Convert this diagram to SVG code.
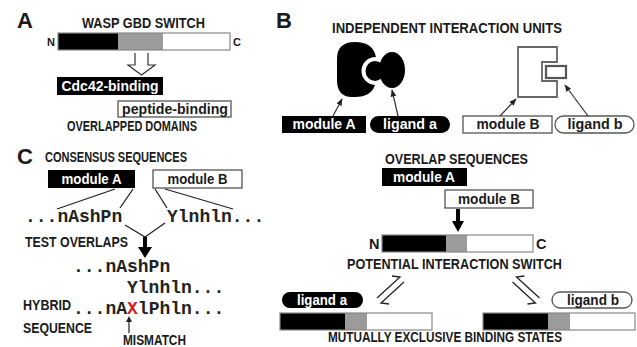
<svg xmlns="http://www.w3.org/2000/svg" width="637" height="347" viewBox="0 0 637 347">
<defs>
<style>
.t{font-family:"Liberation Sans",Arial,sans-serif;font-weight:bold;fill:#1a1a1a}
.big{font-size:22px}
.h{font-size:14.5px}
.lbl{font-size:15px;text-anchor:middle}
.w{fill:#fff}
.nc{font-size:11px}
.mono{font-family:"Liberation Mono","Courier New",monospace;font-weight:bold;font-size:18px;fill:#222}
.blk{fill:#000}
.gry{fill:#9b9b9b}
.wht{fill:#fff}
.out{fill:none;stroke:#888;stroke-width:1.2}
.box{fill:#fff;stroke:#555;stroke-width:1.3}
.ln{fill:none;stroke:#222;stroke-width:1.3}
.thin{fill:none;stroke:#333;stroke-width:1.2}
</style>
<marker id="ah" viewBox="0 0 10 10" refX="9" refY="5" markerWidth="6" markerHeight="6" orient="auto">
<path d="M0,1 L10,5 L0,9 Z" fill="#222"/>
</marker>
</defs>

<!-- Panel A -->
<g id="panelA">
<text class="t big" x="17" y="28">A</text>
<text class="t h" x="82" y="28" textLength="123" lengthAdjust="spacingAndGlyphs">WASP GBD SWITCH</text>
<g id="barA">
<rect class="blk" x="58" y="33" width="60" height="17"/>
<rect class="gry" x="118" y="33" width="45" height="17"/>
<rect class="wht" x="163" y="33" width="67" height="17"/>
<rect class="out" x="58" y="33" width="172" height="17"/>
<text class="t nc" x="47" y="46">N</text>
<text class="t nc" x="233" y="46">C</text>
</g>
<path class="thin" d="M135,53 V65 H128 L141.5,75 L155,65 H148 V53"/>
<g id="cdc42">
<rect class="blk" x="57" y="77" width="106" height="18"/>
<text class="t lbl w" x="110" y="91" textLength="97" lengthAdjust="spacingAndGlyphs">Cdc42-binding</text>
</g>
<g id="peptide">
<rect class="box" x="118" y="101" width="113" height="16"/>
<text class="t lbl" x="175" y="114" textLength="106" lengthAdjust="spacingAndGlyphs">peptide-binding</text>
</g>
<text class="t h" x="67" y="131" textLength="130" lengthAdjust="spacingAndGlyphs">OVERLAPPED DOMAINS</text>
</g>

<!-- Panel B -->
<g id="panelB">
<text class="t big" x="276" y="28">B</text>
<text class="t h" x="332" y="33" textLength="230" lengthAdjust="spacingAndGlyphs">INDEPENDENT INTERACTION UNITS</text>
<g id="blobA">
<path fill="#000" d="M355,42 Q373,42 376,57 A14,14 0 0 0 375,85 Q371,97 355,97 L352,97 Q337,97 337,80 L337,59 Q337,42 355,42 Z"/>
</g>
<g id="ligandAshape">
<ellipse cx="392" cy="70" rx="13" ry="18" fill="#fff" stroke="#fff" stroke-width="4"/>
<ellipse cx="375" cy="71" rx="9.5" ry="10" fill="#fff" stroke="#fff" stroke-width="4"/>
<ellipse cx="392" cy="70" rx="13" ry="18" fill="#000"/>
<ellipse cx="375" cy="71" rx="9.5" ry="10" fill="#000"/>
</g>
<g id="blobB">
<path d="M518,47 H557 V62 H542 V81 H557 V97 H518 Z" fill="#fff" stroke="#666" stroke-width="1.8"/>
<rect x="546" y="66" width="20" height="12" fill="#fff" stroke="#555" stroke-width="2.2"/>
</g>
<g id="moduleA_B">
<rect class="blk" x="282" y="116" width="84" height="17"/>
<text class="t lbl w" x="324" y="129" textLength="63" lengthAdjust="spacingAndGlyphs">module A</text>
</g>
<g id="ligandA_B">
<rect class="blk" x="370" y="116" width="80" height="17" rx="8.5"/>
<text class="t lbl w" x="410" y="129" textLength="54" lengthAdjust="spacingAndGlyphs">ligand a</text>
</g>
<g id="moduleB_B">
<rect class="box" x="463" y="116" width="89" height="17"/>
<text class="t lbl" x="508" y="129" textLength="63" lengthAdjust="spacingAndGlyphs">module B</text>
</g>
<g id="ligandB_B">
<rect class="box" x="555" y="116" width="79" height="17" rx="8.5"/>
<text class="t lbl" x="595" y="129" textLength="55" lengthAdjust="spacingAndGlyphs">ligand b</text>
</g>
</g>

<!-- Panel C -->
<g id="panelC">
<text class="t big" x="17" y="164">C</text>
<text class="t h" x="45" y="162" textLength="142" lengthAdjust="spacingAndGlyphs">CONSENSUS SEQUENCES</text>
<g id="moduleA_C">
<rect class="blk" x="48" y="170" width="87" height="18"/>
<text class="t lbl w" x="91.5" y="184" textLength="60" lengthAdjust="spacingAndGlyphs">module A</text>
</g>
<g id="moduleB_C">
<rect class="box" x="153" y="170" width="89" height="18"/>
<text class="t lbl" x="197.5" y="184" textLength="60" lengthAdjust="spacingAndGlyphs">module B</text>
</g>
<text class="mono" x="25" y="222">...nAshPn</text>
<text class="mono" x="167" y="222">Ylnhln...</text>
<text class="t h" x="25" y="247" textLength="103" lengthAdjust="spacingAndGlyphs">TEST OVERLAPS</text>
<text class="mono" x="73" y="272">...nAshPn</text>
<text class="mono" x="127" y="293">Ylnhln...</text>
<text class="t h" x="23" y="310" textLength="48" lengthAdjust="spacingAndGlyphs">HYBRID</text>
<text class="mono" x="73" y="314">...nA<tspan fill="#d42020">X</tspan>lPhln...</text>
<text class="t h" x="23" y="333" textLength="69" lengthAdjust="spacingAndGlyphs">SEQUENCE</text>
<text class="t h" x="123" y="345" textLength="63" lengthAdjust="spacingAndGlyphs">MISMATCH</text>

<text class="t h" x="385" y="164" textLength="143" lengthAdjust="spacingAndGlyphs">OVERLAP SEQUENCES</text>
<g id="moduleA_C2">
<rect class="blk" x="382" y="168" width="85" height="18"/>
<text class="t lbl w" x="424" y="182" textLength="62" lengthAdjust="spacingAndGlyphs">module A</text>
</g>
<g id="moduleB_C2">
<rect class="box" x="445" y="190" width="88" height="18"/>
<text class="t lbl" x="489" y="204" textLength="62" lengthAdjust="spacingAndGlyphs">module B</text>
</g>
<g id="switchBar">
<rect class="blk" x="382" y="235" width="64" height="17"/>
<rect class="gry" x="446" y="235" width="21" height="17"/>
<rect class="wht" x="467" y="235" width="66" height="17"/>
<rect class="out" x="382" y="235" width="151" height="17"/>
<text class="t h" x="369" y="249">N</text>
<text class="t h" x="536" y="249">C</text>
</g>
<text class="t h" x="347" y="269" textLength="215" lengthAdjust="spacingAndGlyphs">POTENTIAL INTERACTION SWITCH</text>
<g id="ligandA_C">
<rect class="blk" x="282" y="292" width="81" height="16" rx="8"/>
<text class="t lbl w" x="322" y="305" textLength="50" lengthAdjust="spacingAndGlyphs">ligand a</text>
</g>
<g id="barLeft">
<rect class="blk" x="280" y="313" width="65" height="17"/>
<rect class="gry" x="345" y="313" width="22" height="17"/>
<rect class="wht" x="367" y="313" width="65" height="17"/>
<rect class="out" x="280" y="313" width="152" height="17"/>
</g>
<g id="ligandB_C">
<rect class="box" x="552" y="292" width="80" height="16" rx="8"/>
<text class="t lbl" x="593" y="305" textLength="52" lengthAdjust="spacingAndGlyphs">ligand b</text>
</g>
<g id="barRight">
<rect class="blk" x="483" y="313" width="65" height="17"/>
<rect class="gry" x="548" y="313" width="22" height="17"/>
<rect class="wht" x="570" y="313" width="65" height="17"/>
<rect class="out" x="483" y="313" width="152" height="17"/>
</g>
<text class="t h" x="328" y="342" textLength="234" lengthAdjust="spacingAndGlyphs">MUTUALLY EXCLUSIVE BINDING STATES</text>
</g>

<!-- Connectors -->
<g id="connectors">
<line class="thin" x1="333" y1="116" x2="342" y2="99" marker-end="url(#ah)"/>
<line class="thin" x1="398" y1="116" x2="392" y2="90" marker-end="url(#ah)"/>
<line class="thin" x1="500" y1="116" x2="516" y2="99" marker-end="url(#ah)"/>
<line class="thin" x1="588" y1="116" x2="565" y2="85" marker-end="url(#ah)"/>

<line class="ln" x1="115" y1="189" x2="57" y2="209"/>
<line class="ln" x1="133" y1="189" x2="120" y2="208"/>
<line class="ln" x1="155" y1="189" x2="167" y2="208"/>
<line class="ln" x1="165" y1="189" x2="233" y2="209"/>
<polyline class="ln" points="125,225 145,237 165,223"/>
<line x1="145" y1="237" x2="145" y2="248" stroke="#000" stroke-width="4"/>
<polygon points="138,247 152,247 145,258" fill="#000"/>
<line x1="129" y1="333" x2="129" y2="321" stroke="#222" stroke-width="1.2"/>
<polygon points="126,322 132,322 129,316" fill="#222"/>

<line x1="458" y1="209" x2="458" y2="222" stroke="#000" stroke-width="4"/>
<polygon points="452,221 464,221 458,232" fill="#000"/>

<path class="ln" d="M377,298 L400,277 L392,276 M404,282 L381,303 L389,304"/>
<path class="ln" d="M539.5,298 L516.5,277 L524.5,276 M512.5,282 L535.5,303 L527.5,304"/>
</g>
</svg>
